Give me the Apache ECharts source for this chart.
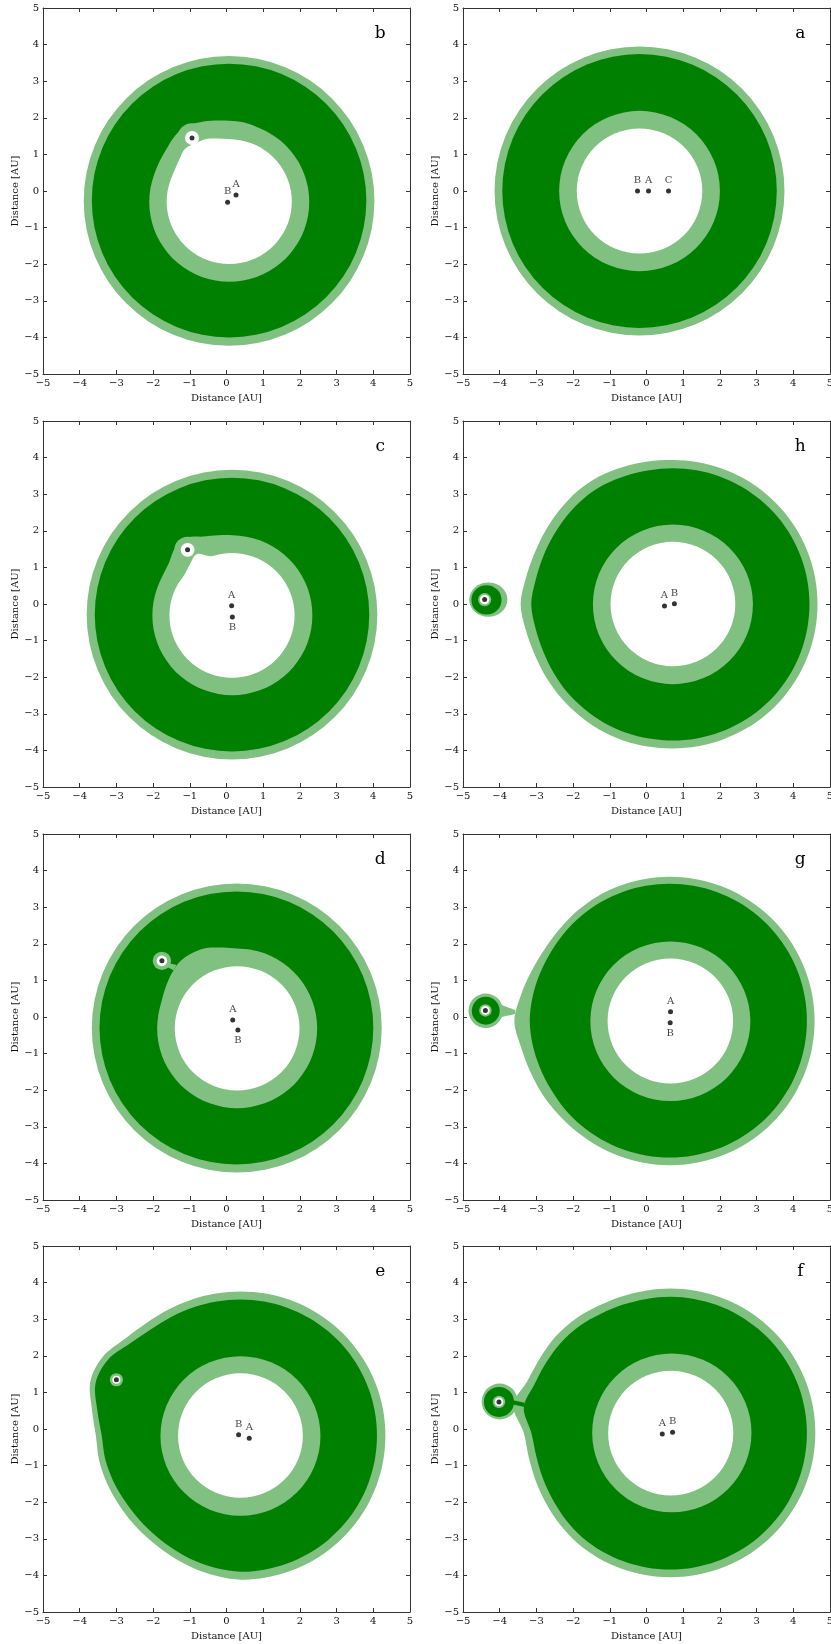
<!DOCTYPE html>
<html>
<head>
<meta charset="utf-8">
<script src="https://cdn.jsdelivr.net/npm/echarts@6/dist/echarts.min.js"></script>
<style>
  html, body { margin: 0; padding: 0; background: #ffffff; }
  #chart { width: 831px; height: 1644px; }
</style>
</head>
<body>
<div id="chart"></div>
<script>
// Habitable zones around multiple-star systems, eight configurations.
// Each zone layer is a list of primitives in AU:
//   [cx, cy, r]              circle
//   [cx, cy, rx, ry]         ellipse
//   [cx, cy, [r0, r10, ..]]  outline given as radius every 10 degrees (smoothed)
//   [[x, y], [x, y], ..]     straight-edged bridge polygon
// Layers are painted in order: optimistic zone, conservative zone,
// inner optimistic band, then the too-hot interior.

const axisMin = -5;
const axisMax = 5;
const tickStep = 1;
const angleStepDeg = 10;
const panelOrder = ['b', 'a', 'c', 'h', 'd', 'g', 'e', 'f'];
const letterPos = [4.19, 4.3];

// ---- panel a ----
const a_light = [[-0.19, 0.0, 3.95]];
const a_dark = [[-0.19, 0.0, 3.74]];
const a_inner = [[-0.19, 0.0, 2.19]];
const a_hole = [[-0.19, 0.0, 1.71]];
const a_stars = [[-0.245, 0.0, 'B', 'top'], [0.055, 0.0, 'A', 'top'], [0.6, 0.0, 'C', 'top']];

// ---- panel b ----
const b_light = [[0.07, -0.27, 3.96]];
const b_dark = [[0.07, -0.26, 3.74]];
const b_inner = [
  [0.075, -0.3, [2.18, 2.18, 2.18, 2.18, 2.18, 2.18, 2.18, 2.18, 2.21, 2.22, 2.26, 2.32,
                 2.38, 2.33, 2.24, 2.20, 2.18, 2.18, 2.18, 2.18, 2.18, 2.18, 2.18, 2.18,
                 2.18, 2.18, 2.18, 2.18, 2.18, 2.18, 2.18, 2.18, 2.18, 2.18, 2.18, 2.18]],
  [-0.94, 1.45, 0.40]
];
const b_hole = [
  [0.075, -0.29, [1.705, 1.705, 1.705, 1.705, 1.705, 1.705, 1.705, 1.705, 1.705, 1.71, 1.75, 1.82,
                  1.84, 1.88, 1.78, 1.72, 1.705, 1.705, 1.705, 1.705, 1.705, 1.705, 1.705, 1.705,
                  1.705, 1.705, 1.705, 1.705, 1.705, 1.705, 1.705, 1.705, 1.705, 1.705, 1.705, 1.705]],
  [-0.94, 1.45, 0.19]
];
const b_stars = [[0.26, -0.11, 'A', 'top'], [0.03, -0.31, 'B', 'top'], [-0.94, 1.45, '', 'top']];

// ---- panel c ----
const c_light = [[0.15, -0.29, 3.96]];
const c_dark = [[0.15, -0.29, 3.74]];
const c_inner = [
  [0.16, -0.31, [2.18, 2.18, 2.18, 2.18, 2.18, 2.18, 2.18, 2.18, 2.18, 2.19, 2.22, 2.29,
                 2.45, 2.42, 2.25, 2.19, 2.18, 2.18, 2.18, 2.18, 2.18, 2.18, 2.18, 2.18,
                 2.18, 2.18, 2.18, 2.18, 2.18, 2.18, 2.18, 2.18, 2.18, 2.18, 2.18, 2.18]],
  [-1.06, 1.48, 0.36]
];
const c_hole = [
  [0.15, -0.31, [1.705, 1.705, 1.705, 1.705, 1.705, 1.705, 1.705, 1.705, 1.705, 1.705, 1.705, 1.72,
                 1.93, 1.80, 1.705, 1.705, 1.705, 1.705, 1.705, 1.705, 1.705, 1.705, 1.705, 1.705,
                 1.705, 1.705, 1.705, 1.705, 1.705, 1.705, 1.705, 1.705, 1.705, 1.705, 1.705, 1.705]],
  [-1.06, 1.48, 0.19]
];
const c_stars = [[0.14, -0.045, 'A', 'top'], [0.16, -0.355, 'B', 'bottom'], [-1.06, 1.48, '', 'top']];

// ---- panel d ----
const d_light = [[0.28, -0.3, 3.95]];
const d_dark = [[0.27, -0.3, 3.73]];
const d_inner = [
  [0.29, -0.31, [2.18, 2.18, 2.18, 2.18, 2.18, 2.18, 2.18, 2.18, 2.18, 2.18, 2.24, 2.34,
                 2.39, 2.40, 2.33, 2.25, 2.19, 2.18, 2.18, 2.18, 2.18, 2.18, 2.18, 2.18,
                 2.18, 2.18, 2.18, 2.18, 2.18, 2.18, 2.18, 2.18, 2.18, 2.18, 2.18, 2.18]],
  [-1.76, 1.535, 0.25],
  [[-1.72, 1.42], [-1.62, 1.48], [-1.36, 1.42], [-1.44, 1.28]]
];
const d_hole = [[0.29, -0.31, 1.70], [-1.76, 1.535, 0.145]];
const d_stars = [[0.17, -0.08, 'A', 'top'], [0.31, -0.355, 'B', 'bottom'], [-1.76, 1.535, '', 'top']];

// ---- panel e ----
const e_light = [
  [0.39, -0.18, [3.94, 3.94, 3.94, 3.94, 3.94, 3.94, 3.94, 3.94, 3.94, 3.94, 3.94, 3.95,
                 3.97, 4.01, 4.12, 4.33, 4.36, 4.12, 3.95, 3.92, 3.87, 3.82, 3.79, 3.78,
                 3.80, 3.84, 3.89, 3.94, 3.94, 3.94, 3.94, 3.94, 3.94, 3.94, 3.94, 3.94]]
];
const e_dark = [
  [0.38, -0.18, [3.72, 3.72, 3.72, 3.72, 3.72, 3.72, 3.72, 3.72, 3.72, 3.72, 3.72, 3.73,
                 3.75, 3.79, 3.92, 4.16, 4.20, 3.96, 3.78, 3.74, 3.68, 3.62, 3.59, 3.58,
                 3.60, 3.64, 3.68, 3.72, 3.72, 3.72, 3.72, 3.72, 3.72, 3.72, 3.72, 3.72]]
];
const e_inner = [[0.38, -0.19, 2.18], [-3.0, 1.345, 0.18]];
const e_hole = [[0.38, -0.18, 1.70], [-3.0, 1.345, 0.11]];
const e_stars = [[0.33, -0.16, 'B', 'top'], [0.62, -0.255, 'A', 'top'], [-3.0, 1.345, '', 'top']];

// ---- panel f ----
const f_light = [
  [0.655, -0.105, [3.945, 3.945, 3.945, 3.945, 3.945, 3.945, 3.945, 3.945, 3.945, 3.945, 3.945, 3.96,
                   3.99, 4.05, 4.09, 4.10, 4.15, 4.35, 4.00, 3.92, 3.90, 3.90, 3.92, 3.94,
                   3.945, 3.945, 3.945, 3.945, 3.945, 3.945, 3.945, 3.945, 3.945, 3.945, 3.945, 3.945]],
  [-4.0, 0.75, 0.49]
];
const f_dark = [
  [0.645, -0.115, [3.725, 3.725, 3.725, 3.725, 3.725, 3.725, 3.725, 3.725, 3.725, 3.725, 3.725, 3.74,
                   3.77, 3.83, 3.87, 3.89, 3.93, 4.05, 3.78, 3.70, 3.68, 3.68, 3.70, 3.72,
                   3.725, 3.725, 3.725, 3.725, 3.725, 3.725, 3.725, 3.725, 3.725, 3.725, 3.725, 3.725]],
  [-4.02, 0.74, 0.41],
  [[-3.7, 0.8], [-3.32, 0.72], [-3.32, 0.6], [-3.7, 0.68]]
];
const f_inner = [[0.69, -0.105, 2.17], [-4.02, 0.74, 0.17]];
const f_hole = [[0.66, -0.115, 1.705], [-4.02, 0.74, 0.12]];
const f_stars = [[0.43, -0.135, 'A', 'top'], [0.71, -0.09, 'B', 'top'], [-4.02, 0.74, '', 'top']];

// ---- panel g ----
const g_light = [
  [0.64, -0.11, [3.94, 3.94, 3.94, 3.94, 3.94, 3.94, 3.94, 3.94, 3.94, 3.94, 3.94, 3.94,
                 3.94, 3.93, 3.92, 3.94, 4.01, 4.12, 4.24, 4.12, 4.05, 4.01, 3.97, 3.95,
                 3.94, 3.94, 3.94, 3.94, 3.94, 3.94, 3.94, 3.94, 3.94, 3.94, 3.94, 3.94]],
  [-4.38, 0.17, 0.47],
  [[-3.95, 0.33], [-3.58, 0.19], [-3.58, 0.08], [-3.95, 0.0]]
];
const g_dark = [
  [0.63, -0.1, [3.74, 3.74, 3.74, 3.74, 3.74, 3.74, 3.74, 3.74, 3.74, 3.74, 3.74, 3.74,
                3.74, 3.74, 3.74, 3.74, 3.76, 3.79, 3.81, 3.79, 3.76, 3.74, 3.74, 3.74,
                3.74, 3.74, 3.74, 3.74, 3.74, 3.74, 3.74, 3.74, 3.74, 3.74, 3.74, 3.74]],
  [-4.38, 0.17, 0.38]
];
const g_inner = [[0.65, -0.115, 2.18], [-4.39, 0.18, 0.17]];
const g_hole = [[0.65, -0.11, 1.71], [-4.39, 0.18, 0.12]];
const g_stars = [[0.655, 0.145, 'A', 'top'], [0.645, -0.155, 'B', 'bottom'], [-4.39, 0.18, '', 'top']];

// ---- panel h ----
const h_light = [
  [0.72, -0.005, [3.94, 3.94, 3.94, 3.94, 3.94, 3.94, 3.94, 3.94, 3.94, 3.94, 3.96, 3.99,
                  4.03, 4.04, 4.02, 4.01, 4.02, 4.07, 4.15, 4.07, 4.01, 3.99, 3.98, 3.97,
                  3.97, 3.96, 3.95, 3.94, 3.94, 3.94, 3.94, 3.94, 3.94, 3.94, 3.94, 3.94]],
  [-4.31, 0.12, 0.52, 0.47]
];
const h_dark = [
  [0.72, -0.01, [3.72, 3.72, 3.72, 3.72, 3.72, 3.72, 3.72, 3.72, 3.72, 3.72, 3.72, 3.74,
                 3.77, 3.78, 3.77, 3.76, 3.77, 3.80, 3.86, 3.80, 3.76, 3.75, 3.75, 3.74,
                 3.74, 3.73, 3.72, 3.72, 3.72, 3.72, 3.72, 3.72, 3.72, 3.72, 3.72, 3.72]],
  [-4.36, 0.11, 0.41, 0.40]
];
const h_inner = [[0.72, -0.01, 2.18], [-4.41, 0.12, 0.18]];
const h_hole = [[0.72, 0.0, 1.70], [-4.41, 0.12, 0.13]];
const h_stars = [[0.49, -0.055, 'A', 'top'], [0.76, 0.01, 'B', 'top'], [-4.41, 0.12, '', 'top']];

const LIGHT = '#80c080';
const DARK = '#008000';
const HOLE = '#ffffff';
const FONT = 'DejaVu Serif';
const INK = '#111111';
const FRAME = '#333333';

const zones = {
  a: [a_light, a_dark, a_inner, a_hole, a_stars],
  b: [b_light, b_dark, b_inner, b_hole, b_stars],
  c: [c_light, c_dark, c_inner, c_hole, c_stars],
  d: [d_light, d_dark, d_inner, d_hole, d_stars],
  e: [e_light, e_dark, e_inner, e_hole, e_stars],
  f: [f_light, f_dark, f_inner, f_hole, f_stars],
  g: [g_light, g_dark, g_inner, g_hole, g_stars],
  h: [h_light, h_dark, h_inner, h_hole, h_stars]
};

// plot-area placement (px)
const colLeft = [43, 463];
const rowTop = [8, 421, 834, 1246];
const plotW = 367;
const plotH = 366;

const minus = v => (v < 0 ? '\u2212' + (-v) : String(v));

function shapeOf(p, fill, api) {
  if (Array.isArray(p[0])) {
    // straight bridge polygon
    return { type: 'polygon', shape: { points: p.map(q => api.coord(q)) }, style: { fill: fill } };
  }
  if (Array.isArray(p[2])) {
    // outline from radii sampled at equal angles around a centre
    const pts = p[2].map((r, k) => {
      const t = k * angleStepDeg * Math.PI / 180;
      return api.coord([p[0] + r * Math.cos(t), p[1] + r * Math.sin(t)]);
    });
    return { type: 'polygon', shape: { points: pts, smooth: 1 / 3 }, style: { fill: fill } };
  }
  const c = api.coord([p[0], p[1]]);
  const s = api.size([p[2], p.length > 3 ? p[3] : p[2]]);
  return {
    type: 'circle',
    shape: { cx: 0, cy: 0, r: 1 },
    x: c[0], y: c[1], scaleX: s[0], scaleY: s[1],
    style: { fill: fill }
  };
}

function zoneRenderer(id) {
  const layers = zones[id].slice(0, 4);
  const fills = [LIGHT, DARK, LIGHT, HOLE];
  return function (params, api) {
    const children = [];
    layers.forEach((layer, k) => {
      layer.forEach(p => children.push(shapeOf(p, fills[k], api)));
    });
    const lp = api.coord(letterPos);
    children.push({
      type: 'text', x: lp[0], y: lp[1],
      style: { text: id, fontFamily: FONT, fontSize: 17, fill: '#000', align: 'center', verticalAlign: 'middle' }
    });
    return { type: 'group', children: children };
  };
}

const grid = [], xAxis = [], yAxis = [], series = [];
panelOrder.forEach((id, i) => {
  const col = i % 2, row = Math.floor(i / 2);
  grid.push({ left: colLeft[col], top: rowTop[row], width: plotW, height: plotH, outerBoundsMode: 'none', containLabel: false });
  const line = { show: true, onZero: false, lineStyle: { color: FRAME, width: 1 } };
  const tick = { show: true, inside: true, length: 4, lineStyle: { color: FRAME, width: 1 } };
  const label = { show: true, fontFamily: FONT, fontSize: 10, color: INK, formatter: minus };
  xAxis.push({
    gridIndex: i, type: 'value', min: axisMin, max: axisMax, interval: tickStep, position: 'bottom',
    name: 'Distance [AU]', nameLocation: 'middle', nameGap: 19,
    nameTextStyle: { fontFamily: FONT, fontSize: 10, color: INK },
    axisLine: line, axisTick: tick, axisLabel: Object.assign({ margin: 4 }, label),
    splitLine: { show: false }
  });
  xAxis.push({
    gridIndex: i, type: 'value', min: axisMin, max: axisMax, interval: tickStep, position: 'top',
    axisLine: line, axisTick: tick, axisLabel: { show: false }, splitLine: { show: false }
  });
  yAxis.push({
    gridIndex: i, type: 'value', min: axisMin, max: axisMax, interval: tickStep, position: 'left',
    name: 'Distance [AU]', nameLocation: 'middle', nameGap: 21, nameRotate: 90,
    nameTextStyle: { fontFamily: FONT, fontSize: 10, color: INK },
    axisLine: line, axisTick: tick, axisLabel: Object.assign({ margin: 4 }, label),
    splitLine: { show: false }
  });
  yAxis.push({
    gridIndex: i, type: 'value', min: axisMin, max: axisMax, interval: tickStep, position: 'right',
    axisLine: line, axisTick: tick, axisLabel: { show: false }, splitLine: { show: false }
  });

  series.push({
    type: 'custom', xAxisIndex: 2 * i, yAxisIndex: 2 * i, silent: true, z: 2,
    renderItem: zoneRenderer(id), data: [[0, 0]]
  });
  series.push({
    type: 'scatter', xAxisIndex: 2 * i, yAxisIndex: 2 * i, silent: true, z: 3,
    symbol: 'circle', symbolSize: 5, itemStyle: { color: '#000' },
    data: zones[id][4].map(s => ({
      value: [s[0], s[1]], name: s[2],
      label: { show: s[2] !== '', position: s[3], distance: 3, formatter: s[2], fontFamily: FONT, fontSize: 10, color: INK }
    }))
  });
});

const chart = echarts.init(document.getElementById('chart'), null, { renderer: 'canvas' });
chart.setOption({
  backgroundColor: '#ffffff',
  animation: false,
  grid: grid, xAxis: xAxis, yAxis: yAxis, series: series
});
</script>
</body>
</html>
